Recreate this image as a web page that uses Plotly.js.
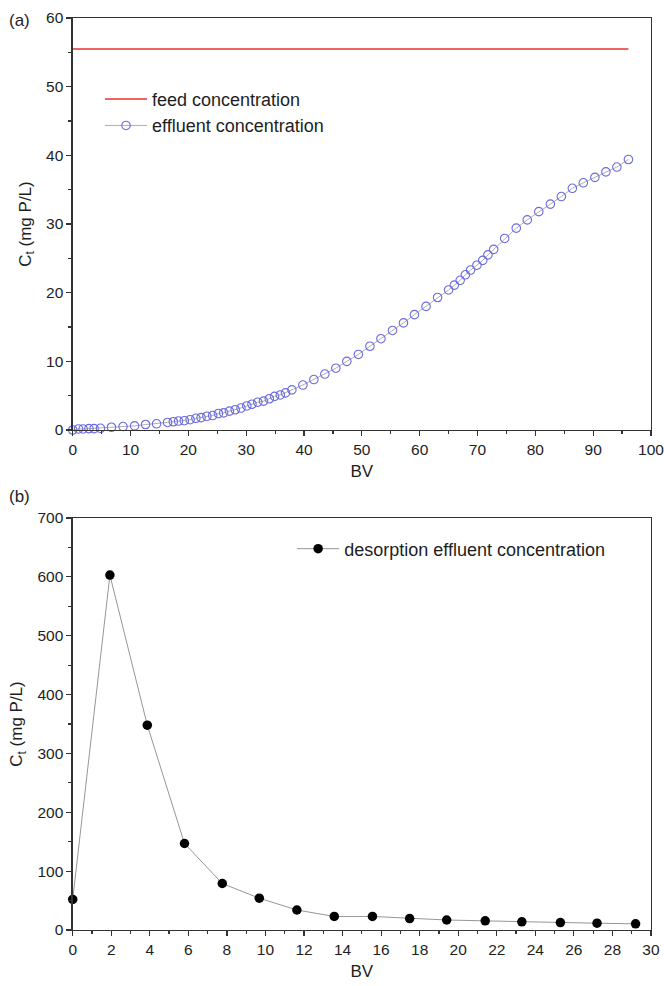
<!DOCTYPE html>
<html>
<head>
<meta charset="utf-8">
<script src="https://cdn.plot.ly/plotly-3.0.1.min.js"></script>
<style>html,body{margin:0;padding:0;background:#fff;}#chart{width:664px;height:986px;}</style>
</head>
<body>
<div id="chart"></div>
<script>
// (a) adsorption breakthrough
const feed_bv = [0, 96.1];
const feed_c = [55.5, 55.5];
const effluent_bv = [0, 1.0, 1.8, 2.8, 3.7, 4.8, 6.7, 8.7, 10.7, 12.6, 14.5, 16.4, 17.4, 18.3, 19.3, 20.3, 21.3, 22.2, 23.2, 24.2, 25.2, 26.1, 27.1, 28.1, 29.1, 30.1, 31.0, 32.0, 33.0, 34.0, 34.9, 35.9, 36.8, 37.9, 39.8, 41.7, 43.6, 45.5, 47.4, 49.4, 51.4, 53.3, 55.3, 57.2, 59.1, 61.1, 63.1, 65.0, 66.0, 67.0, 67.9, 68.8, 69.9, 70.9, 71.8, 72.8, 74.7, 76.7, 78.6, 80.6, 82.6, 84.5, 86.4, 88.3, 90.3, 92.2, 94.1, 96.1];
const effluent_c = [0, 0.15, 0.15, 0.2, 0.2, 0.25, 0.4, 0.5, 0.6, 0.8, 0.9, 1.1, 1.2, 1.3, 1.35, 1.5, 1.7, 1.8, 2.0, 2.1, 2.4, 2.5, 2.75, 2.95, 3.2, 3.5, 3.75, 4.05, 4.2, 4.55, 4.9, 5.1, 5.4, 5.85, 6.55, 7.35, 8.15, 9.0, 10.0, 11.0, 12.2, 13.3, 14.5, 15.6, 16.8, 18.0, 19.3, 20.4, 21.1, 21.8, 22.6, 23.3, 24.0, 24.7, 25.5, 26.3, 27.9, 29.4, 30.6, 31.8, 32.9, 34.0, 35.2, 36.0, 36.8, 37.6, 38.3, 39.4];
// (b) desorption
const desorb_bv = [0, 1.93, 3.87, 5.8, 7.76, 9.68, 11.63, 13.57, 15.55, 17.48, 19.4, 21.4, 23.3, 25.3, 27.2, 29.2];
const desorb_c = [52, 603, 348, 147, 79, 54, 34, 23, 23, 19.5, 17, 15.5, 13.8, 12.6, 11.5, 10.5];

const names = ['feed concentration', 'effluent concentration', 'desorption effluent concentration'];
const xTitle = 'BV';
const yTitle = 'C<sub>t</sub> (mg P/L)';
const panelLabels = ['(a)', '(b)'];

const FONT = 'Liberation Sans, Arial, sans-serif';
const AX = '#333333';
const TXT = '#1e1e1e';

const traces = [
  {x: feed_bv, y: feed_c, name: names[0], mode: 'lines', xaxis: 'x', yaxis: 'y',
   line: {color: '#e8312f', width: 1.6}, legend: 'legend'},
  {x: effluent_bv, y: effluent_c, name: names[1], mode: 'lines+markers', xaxis: 'x', yaxis: 'y',
   line: {color: '#9a9a9a', width: 0.8},
   marker: {symbol: 'circle-open', size: 8.5, color: '#6b6be0', line: {width: 1.1, color: '#6b6be0'}},
   cliponaxis: false, legend: 'legend'},
  {x: desorb_bv, y: desorb_c, name: names[2], mode: 'lines+markers', xaxis: 'x2', yaxis: 'y2',
   line: {color: '#8a8a8a', width: 0.9},
   marker: {symbol: 'circle', size: 9.5, color: '#000000'},
   cliponaxis: false, legend: 'legend2'}
];

function axis(extra) {
  return Object.assign({
    showline: true, linecolor: AX, linewidth: 1.3, mirror: true,
    ticks: 'outside', ticklen: 5, tickwidth: 1.2, tickcolor: AX,
    showgrid: false, zeroline: false, ticklabeloverflow: 'allow',
    tickfont: {family: FONT, size: 15.5, color: TXT}
  }, extra);
}
const titleFont = {family: FONT, size: 17, color: TXT};

const layout = {
  width: 664, height: 986,
  margin: {l: 0, r: 0, t: 0, b: 0},
  paper_bgcolor: '#ffffff', plot_bgcolor: '#ffffff',
  font: {family: FONT, color: TXT},
  showlegend: true,
  xaxis: axis({domain: [0.1095, 0.9804], range: [0, 100], dtick: 10, tick0: 0, anchor: 'y',
    minor: {dtick: 5, ticks: 'outside', ticklen: 3, tickcolor: AX},
    title: {text: xTitle, standoff: 8, font: titleFont}}),
  yaxis: axis({domain: [0.5639, 0.9817], range: [0, 60], dtick: 10, tick0: 0, anchor: 'x',
    minor: {dtick: 5, ticks: 'outside', ticklen: 3, tickcolor: AX},
    title: {text: yTitle, standoff: 10, font: titleFont}}),
  xaxis2: axis({domain: [0.1095, 0.9804], range: [0, 30], dtick: 2, tick0: 0, anchor: 'y2',
    minor: {dtick: 1, ticks: 'outside', ticklen: 3, tickcolor: AX},
    title: {text: xTitle, standoff: 8, font: titleFont}}),
  yaxis2: axis({domain: [0.0568, 0.4746], range: [0, 700], dtick: 100, tick0: 0, anchor: 'x2',
    minor: {dtick: 50, ticks: 'outside', ticklen: 3, tickcolor: AX},
    title: {text: yTitle, standoff: 10, font: titleFont}}),
  legend: {x: 0.1506, y: 0.918, xanchor: 'left', yanchor: 'top', bgcolor: 'rgba(0,0,0,0)',
    font: {family: FONT, size: 18, color: TXT}, tracegroupgap: 0, itemwidth: 42},
  legend2: {x: 0.44, y: 0.462, xanchor: 'left', yanchor: 'top', bgcolor: 'rgba(0,0,0,0)',
    font: {family: FONT, size: 18, color: TXT}, itemwidth: 42},
  annotations: [
    {text: panelLabels[0], xref: 'paper', yref: 'paper', x: 0.01, y: 0.991, xanchor: 'left', yanchor: 'top',
     showarrow: false, font: {family: FONT, size: 17, color: TXT}},
    {text: panelLabels[1], xref: 'paper', yref: 'paper', x: 0.01, y: 0.508, xanchor: 'left', yanchor: 'top',
     showarrow: false, font: {family: FONT, size: 17, color: TXT}}
  ]
};

Plotly.newPlot('chart', traces, layout, {displayModeBar: false, staticPlot: true});
</script>
</body>
</html>
